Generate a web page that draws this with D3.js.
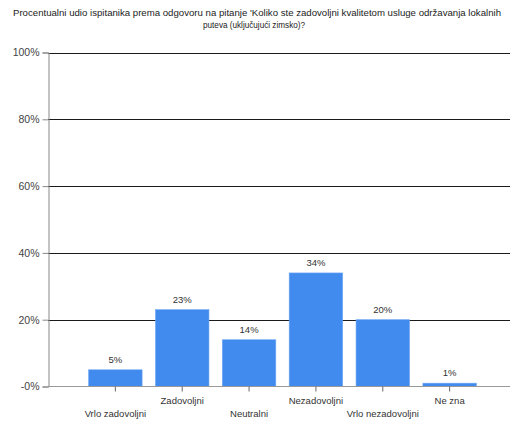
<!DOCTYPE html>
<html>
<head>
<meta charset="utf-8">
<script src="https://cdn.jsdelivr.net/npm/d3@7"></script>
<style>
html,body{margin:0;padding:0;background:#fff;}
svg{display:block;font-family:"Liberation Sans",Arial,sans-serif;}
</style>
</head>
<body>
<svg id="chart" width="510" height="421"></svg>
<script>
const titleLines = ["Procentualni udio ispitanika prema odgovoru na pitanje 'Koliko ste zadovoljni kvalitetom usluge održavanja lokalnih", "puteva (uključujući zimsko)?"];
const categories = ["Vrlo zadovoljni", "Zadovoljni", "Neutralni", "Nezadovoljni", "Vrlo nezadovoljni", "Ne zna"];
const values = [5, 23, 14, 34, 20, 1];
const yTicks = [0, 20, 40, 60, 80, 100];
const yTickLabels = ["-0%", "20%", "40%", "60%", "80%", "100%"];

const W = 510, H = 421;
const svg = d3.select("#chart");

const x = d3.scaleBand().domain(categories).range([48.5, 516.5]).paddingInner(0.2).paddingOuter(0.6);
const y = d3.scaleLinear().domain([0, 100]).range([386.5, 52.5]);

// title
const tl = svg.append("g").attr("fill", "#222").attr("font-size", 9.5).attr("text-anchor", "middle");
tl.append("text").attr("x", 257).attr("y", 16).attr("textLength", 488).attr("lengthAdjust", "spacingAndGlyphs").text(titleLines[0]);
tl.append("text").attr("x", 254).attr("y", 28).attr("textLength", 102).attr("lengthAdjust", "spacingAndGlyphs").text(titleLines[1]);

// gridlines
svg.append("g").selectAll("line").data(yTicks.filter(d => d > 0)).join("line")
  .attr("x1", 48).attr("x2", W)
  .attr("y1", d => Math.round(y(d)) + 0.5).attr("y2", d => Math.round(y(d)) + 0.5)
  .attr("stroke", "#1a1a1a").attr("stroke-width", 1);

// bars
svg.append("g").selectAll("rect").data(values).join("rect")
  .attr("x", (d, i) => x(categories[i]))
  .attr("width", x.bandwidth())
  .attr("y", d => y(d))
  .attr("height", d => y(0) - y(d))
  .attr("fill", "#418aee")
  .attr("stroke", "#6ea6f3").attr("stroke-width", 0.6);

// value labels
svg.append("g").attr("font-size", 9.5).attr("fill", "#333").attr("text-anchor", "middle")
  .selectAll("text").data(values).join("text")
  .attr("x", (d, i) => x(categories[i]) + x.bandwidth() / 2)
  .attr("y", d => y(d) - 7)
  .text(d => d + "%");

// y axis
const yAxis = d3.axisLeft(y).tickValues(yTicks).tickSize(6).tickPadding(3)
  .tickFormat((d, i) => yTickLabels[i]);
const gy = svg.append("g").attr("transform", "translate(48.5,0)").call(yAxis);
gy.select(".domain").attr("stroke", "#888");
gy.selectAll(".tick line").attr("stroke", "#888");
gy.selectAll(".tick text").attr("font-size", 10.5).attr("fill", "#444").attr("font-family", "Liberation Sans, Arial, sans-serif");

// baseline
svg.append("line").attr("x1", 48).attr("x2", W).attr("y1", 386.5).attr("y2", 386.5).attr("stroke", "#999");

// x axis
const xAxis = d3.axisBottom(x).tickSize(5).tickSizeOuter(0).tickFormat("");
const gx = svg.append("g").attr("transform", "translate(0,386.5)").call(xAxis);
gx.select(".domain").remove();
gx.selectAll(".tick line").attr("stroke", "#666");

svg.append("g").attr("font-size", 9.5).attr("fill", "#333").attr("text-anchor", "middle")
  .selectAll("text").data(categories).join("text")
  .attr("x", d => x(d) + x.bandwidth() / 2)
  .attr("y", (d, i) => i % 2 === 0 ? 417 : 404)
  .text(d => d);
</script>
</body>
</html>
